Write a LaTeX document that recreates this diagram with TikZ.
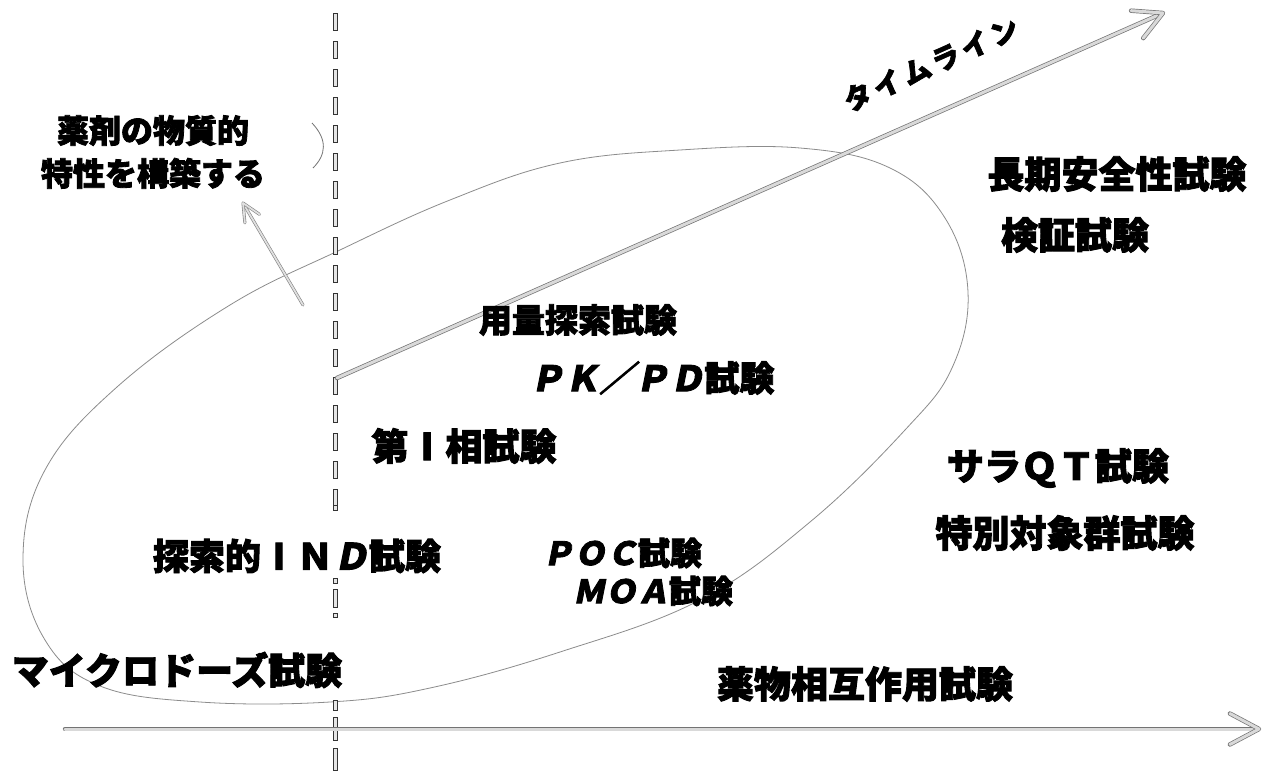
\documentclass[tikz,border=0pt]{standalone}
\usepackage{fontspec}
\usetikzlibrary{calc}
\newfontfamily\jp{Noto Sans CJK JP}[FakeBold=2.5]
\newfontfamily\jpsl{Noto Sans CJK JP}[FakeSlant=0.2, FakeBold=2.5]
\newcommand{\slx}[1]{{\jpsl\bfseries #1}}
\newcommand{\barI}{\makebox[1em]{I}}
\tikzset{
  lbl/.style={inner sep=0pt, font=\jp\bfseries, text=black},
  band/.style={draw=black!55, line width=0.7pt, double=black!15, double distance=3pt, line cap=round, line join=round},
  thinband/.style={draw=black!50, line width=0.6pt, double=black!12, double distance=1.8pt, line cap=round, line join=round},
  loop/.style={draw=black!45, line width=0.8pt},
  dashbox/.style={draw=black!80, line width=0.8pt, fill=black!10}
}
\begin{document}
\begin{tikzpicture}[x=1pt,y=-1pt]
\useasboundingbox (0,0) rectangle (1267,773);
\fill[white] (0,0) rectangle (1267,773);

% big loop
\draw[loop] plot[smooth cycle, tension=0.65] coordinates {
 (23,560) (45,470) (117,387) (230,305) (340,250) (450,200) (560,163)
 (680,150) (800,148) (890,168) (945,218) (968,292) (952,368) (905,430)
 (810,522) (700,600) (560,652) (430,688) (330,702) (200,702) (100,686) (45,640)};

% small arc near the dashed line
\draw[black!55, line width=0.8pt] (312,123) .. controls (328,140) and (326,155) .. (313,168);

% vertical dashed line
\foreach \y in {13,41,...,489} {\draw[dashbox] (333,\y) rectangle (337,\y+17);}
\draw[dashbox] (333,505) rectangle (337,510);
\draw[dashbox] (333,578) rectangle (337,583);
\draw[dashbox] (333,589) rectangle (337,607);
\draw[dashbox] (333,613) rectangle (337,617);
\draw[dashbox] (333,700) rectangle (337,710);
\draw[dashbox] (333,717) rectangle (337,740);
\draw[dashbox] (333,748) rectangle (337,770);

% horizontal axis
\coordinate (axL) at (65,729);
\coordinate (axR) at (1259,729);
\draw[band] (axL) -- ($(axR)!5pt!(axL)$);
\draw[band] ($(axR)!33pt!28:(axL)$) -- (axR) -- ($(axR)!33pt!-28:(axL)$);

% timeline arrow
\coordinate (tlS) at (337,378);
\coordinate (tlE) at (1163,13);
\draw[band] (tlS) -- ($(tlE)!5pt!(tlS)$);
\draw[band] ($(tlE)!32pt!28:(tlS)$) -- (tlE) -- ($(tlE)!32pt!-28:(tlS)$);

% small arrow to the property label
\coordinate (smS) at (303,305);
\coordinate (smE) at (243,203);
\draw[thinband] (smS) -- ($(smE)!3pt!(smS)$);
\draw[thinband] ($(smE)!20pt!25:(smS)$) -- (smE) -- ($(smE)!20pt!-25:(smS)$);

% labels
\node[lbl, align=center, font=\jp\bfseries\fontsize{32}{43}\selectfont] (prop) at (153,152) {薬剤の物質的\\特性を構築する};
\node[lbl, font=\jp\bfseries\fontsize{28}{28}\selectfont, rotate=24] (tl) at (931,64) {タ\hspace{4pt}イ\hspace{4pt}ム\hspace{4pt}ラ\hspace{4pt}イ\hspace{4pt}ン};
\node[lbl, font=\jp\bfseries\fontsize{37}{37}\selectfont] (choki) at (1117,174) {長期安全性試験};
\node[lbl, font=\jp\bfseries\fontsize{37}{37}\selectfont] (kensho) at (1075,235) {検証試験};
\node[lbl, font=\jp\bfseries\fontsize{33}{33}\selectfont] (yoryo) at (578,320) {用量探索試験};
\node[lbl, font=\jp\bfseries\fontsize{35}{35}\selectfont] (pkpd) at (652,378) {\slx{ＰＫ／ＰＤ}試験};
\node[lbl, font=\jp\bfseries\fontsize{37}{37}\selectfont] (dai1) at (464,446) {第\barI 相試験};
\node[lbl, font=\jp\bfseries\fontsize{36}{36}\selectfont] (ind) at (297,556) {探索的\barI Ｎ\slx{Ｄ}試験};
\node[lbl, font=\jp\bfseries\fontsize{32}{32}\selectfont] (poc) at (622,553) {\slx{ＰＯＣ}試験};
\node[lbl, font=\jp\bfseries\fontsize{32}{32}\selectfont] (moa) at (653,591) {\slx{ＭＯＡ}試験};
\node[lbl, font=\jp\bfseries\fontsize{37}{37}\selectfont] (micro) at (177,670) {マイクロドーズ試験};
\node[lbl, font=\jp\bfseries\fontsize{37}{37}\selectfont] (ddi) at (865,684) {薬物相互作用試験};
\node[lbl, font=\jp\bfseries\fontsize{37}{37}\selectfont] (qt) at (1058,468) {サラＱＴ試験};
\node[lbl, font=\jp\bfseries\fontsize{37}{37}\selectfont] (special) at (1065,533) {特別対象群試験};
\end{tikzpicture}
\end{document}
